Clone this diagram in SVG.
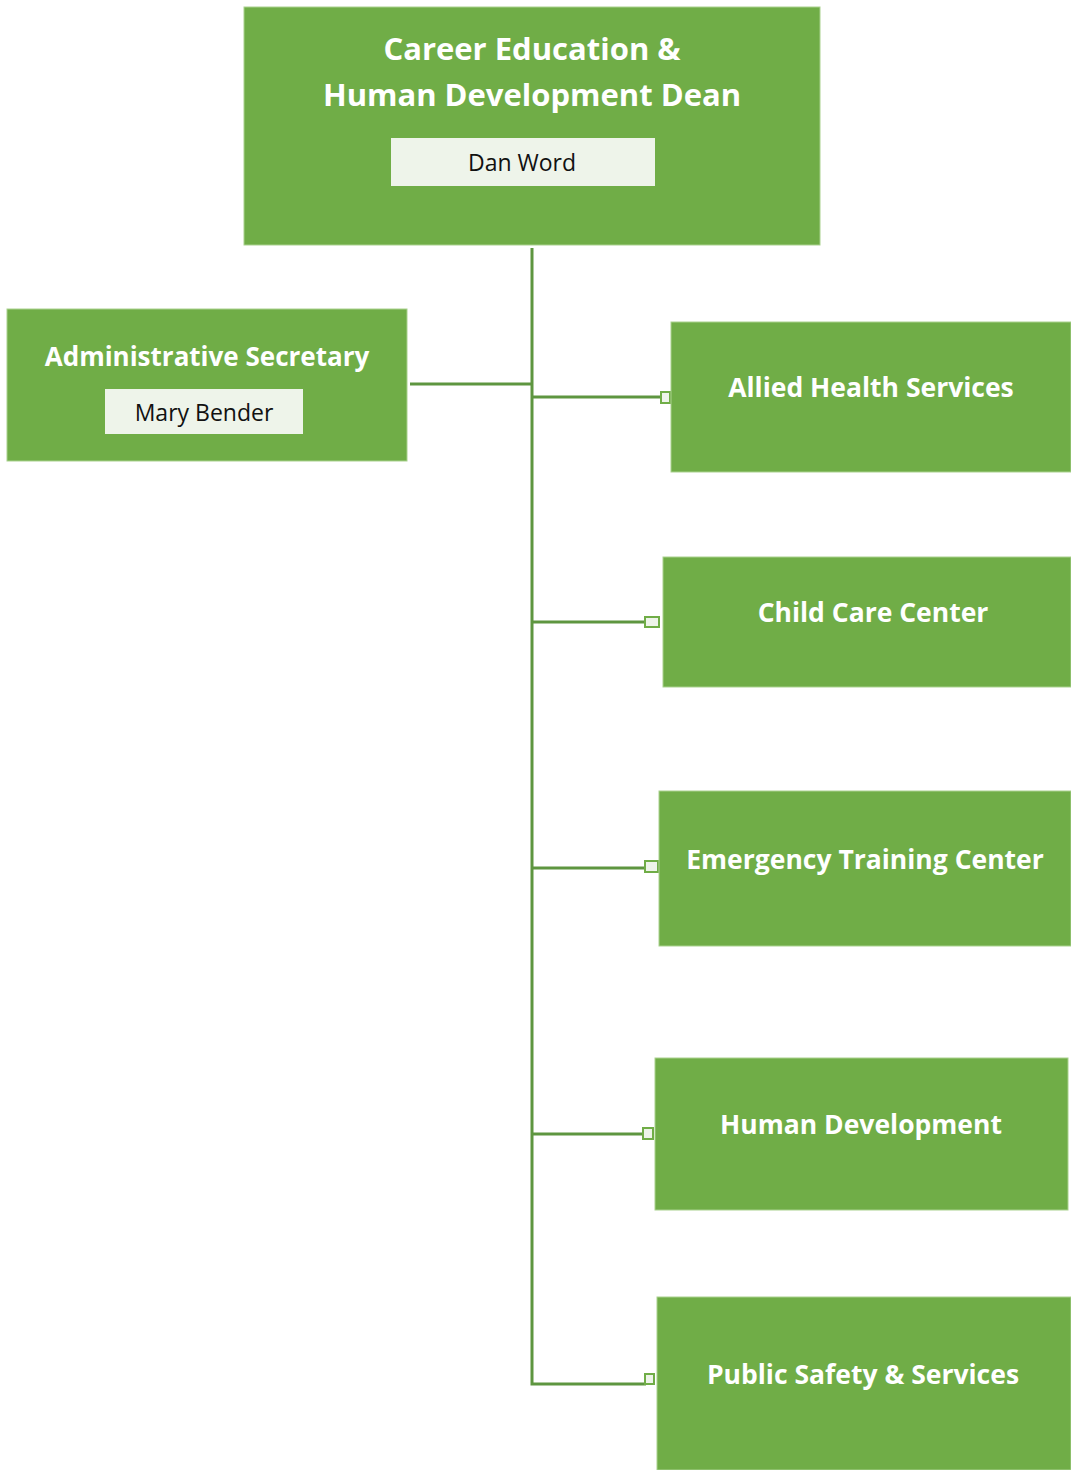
<svg xmlns="http://www.w3.org/2000/svg" width="1071" height="1470" viewBox="0 0 1071 1470">
<style>
.box{fill:#70AD47;stroke:#A9D18E;stroke-width:1}
.inner{fill:#EEF4EA}
.t{font-family:"Open Sans","Liberation Sans",sans-serif;font-weight:700;fill:#FFFFFF;text-anchor:middle}
.n{font-family:"Open Sans","Liberation Sans",sans-serif;font-weight:400;fill:#111111;text-anchor:middle;font-size:23px}
.ln{stroke:#5E9640;stroke-width:3;fill:none}
.mk{fill:#EEF4EA;stroke:#70AD47;stroke-width:2}
</style>
<g id="connectors">
<path class="ln" d="M532 248 V1384 H646"/>
<path class="ln" d="M410 384 H532"/>
<path class="ln" d="M532 397 H662"/>
<path class="ln" d="M532 622 H646"/>
<path class="ln" d="M532 868 H645"/>
<path class="ln" d="M532 1134 H643"/>
<rect class="mk" x="661" y="392" width="9" height="11"/>
<rect class="mk" x="645" y="617" width="14" height="10"/>
<rect class="mk" x="645" y="861" width="13" height="11"/>
<rect class="mk" x="643" y="1128" width="10" height="11"/>
<rect class="mk" x="645" y="1374" width="9" height="10"/>
</g>
<g id="dean">
<rect class="box" x="244" y="7" width="576" height="238"/>
<text class="t" x="532" y="60" font-size="31">Career Education &amp;</text>
<text class="t" x="532" y="106" font-size="31">Human Development Dean</text>
<rect class="inner" x="391" y="138" width="264" height="48"/>
<text class="n" x="522" y="171">Dan Word</text>
</g>
<g id="admin">
<rect class="box" x="7" y="309" width="400" height="152"/>
<text class="t" x="207" y="366" font-size="26">Administrative Secretary</text>
<rect class="inner" x="105" y="389" width="198" height="45"/>
<text class="n" x="204" y="421">Mary Bender</text>
</g>
<g id="allied">
<rect class="box" x="671" y="322" width="400" height="150"/>
<text class="t" x="871" y="397" font-size="26.5">Allied Health Services</text>
</g>
<g id="childcare">
<rect class="box" x="663" y="557" width="408" height="130"/>
<text class="t" x="873" y="622" font-size="26.5">Child Care Center</text>
</g>
<g id="emergency">
<rect class="box" x="659" y="791" width="412" height="155"/>
<text class="t" x="865" y="869" font-size="26.5">Emergency Training Center</text>
</g>
<g id="humandev">
<rect class="box" x="655" y="1058" width="413" height="152"/>
<text class="t" x="861" y="1134" font-size="26.5">Human Development</text>
</g>
<g id="publicsafety">
<rect class="box" x="657" y="1297" width="414" height="173"/>
<text class="t" x="863" y="1384" font-size="26.5">Public Safety &amp; Services</text>
</g>
</svg>
